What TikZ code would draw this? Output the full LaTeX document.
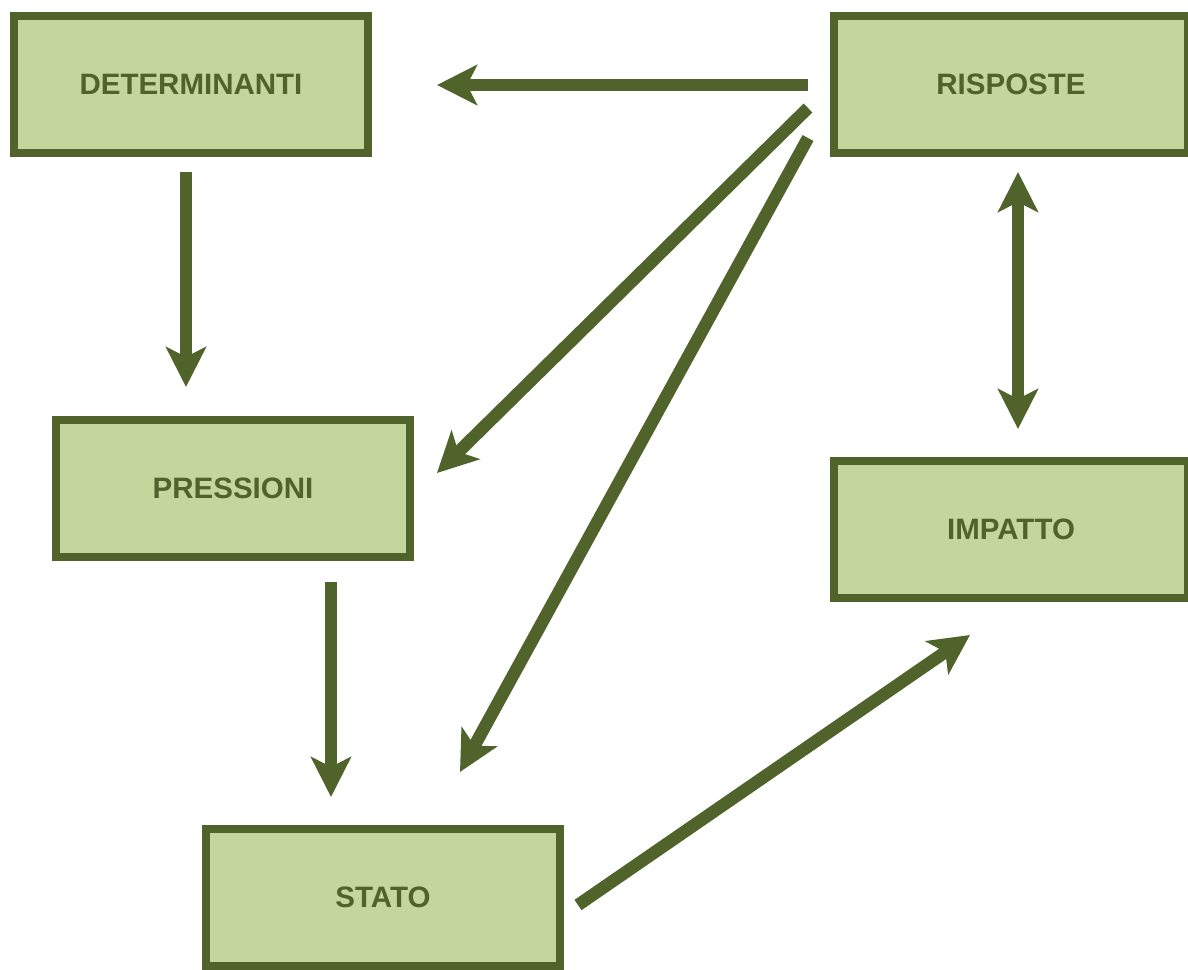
\documentclass[tikz,border=0pt]{standalone}
\usepackage{fontspec}
\setmainfont{Liberation Sans}
\usetikzlibrary{arrows.meta}
\definecolor{olive}{HTML}{50632B}
\definecolor{lightolive}{HTML}{C3D69B}
\begin{document}
\begin{tikzpicture}[x=1pt,y=-1pt,
  box/.style={draw=olive,fill=lightolive,line width=8pt,minimum width=354pt,minimum height=137pt,inner sep=0pt,
    text=olive,font=\fontsize{29.5}{31}\selectfont\bfseries},
  conn/.style={draw=olive,line width=12.5pt,-{Stealth[length=40pt,width=40pt,inset=10pt]}},
  biconn/.style={draw=olive,line width=12.5pt,{Stealth[length=40pt,width=40pt,inset=10pt]}-{Stealth[length=40pt,width=40pt,inset=10pt]}}]
\useasboundingbox (0,0) rectangle (1188,969);
\node[box] (D) at (191,84.5) {DETERMINANTI};
\node[box] (R) at (1011,84.5) {RISPOSTE};
\node[box] (P) at (233,488) {PRESSIONI};
\node[box] (I) at (1011,529.5) {IMPATTO};
\node[box] (S) at (383,897.5) {STATO};
% free ends
\coordinate (r1) at (808,85);
\coordinate (d1) at (437,85);
\coordinate (d2) at (186,172);
\coordinate (p2) at (186,387);
\coordinate (r3) at (808,108);
\coordinate (p3) at (437,473);
\coordinate (r4) at (808,138);
\coordinate (s4) at (460,772);
\coordinate (p5) at (331,582);
\coordinate (s5) at (331,797);
\coordinate (s6) at (578,905);
\coordinate (i6) at (970,635);
\coordinate (r7) at (1018,172);
\coordinate (i7) at (1018,429);
\draw[conn] (r1) -- (d1);
\draw[conn] (d2) -- (p2);
\draw[conn] (r3) -- (p3);
\draw[conn] (r4) -- (s4);
\draw[conn] (p5) -- (s5);
\draw[conn] (s6) -- (i6);
\draw[biconn] (r7) -- (i7);
\end{tikzpicture}
\end{document}
